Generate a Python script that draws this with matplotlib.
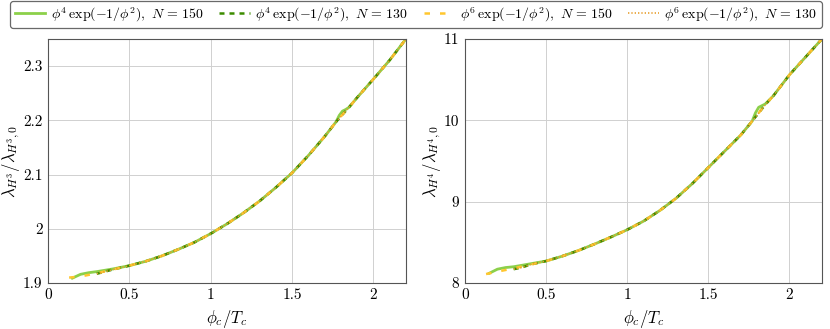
import numpy as np
import matplotlib
matplotlib.use("Agg")
import matplotlib.pyplot as plt

plt.rcParams['font.family'] = 'serif'
plt.rcParams['font.serif'] = ['cmr10', 'DejaVu Serif']
plt.rcParams['mathtext.fontset'] = 'cm'
plt.rcParams['axes.formatter.use_mathtext'] = True

# siatki phi_c/T_c
x_a = [0.15, 0.2, 0.25, 0.3, 0.4, 0.5, 0.6, 0.7, 0.8, 0.9, 1.0, 1.1, 1.2, 1.3, 1.4,
       1.5, 1.6, 1.7, 1.77, 1.79, 1.81, 1.83, 1.85, 1.9, 2.0, 2.1, 2.2]
x_b = [0.13, 0.2, 0.25, 0.3, 0.4, 0.5, 0.6, 0.7, 0.8, 0.9, 1.0, 1.1, 1.2, 1.3, 1.4,
       1.5, 1.6, 1.7, 1.77, 1.85, 1.9, 2.0, 2.1, 2.2]
x_c = [0.3, 0.35, 0.4, 0.5, 0.6, 0.7, 0.8, 0.9, 1.0, 1.1, 1.2, 1.3, 1.4,
       1.5, 1.6, 1.7, 1.77, 1.85, 1.9, 2.0, 2.1, 2.2]

# lambda_H3 / lambda_H3,0
h3_p4_150 = [1.909, 1.916, 1.919, 1.921, 1.926, 1.932, 1.940, 1.950, 1.962, 1.975, 1.991,
             2.009, 2.029, 2.051, 2.076, 2.103, 2.135, 2.170, 2.197, 2.209, 2.217, 2.220,
             2.224, 2.242, 2.276, 2.311, 2.350]
h3_p4_130 = [1.917, 1.921, 1.925, 1.932, 1.940, 1.950, 1.962, 1.975, 1.991,
             2.009, 2.029, 2.051, 2.076, 2.103, 2.135, 2.170, 2.197, 2.224,
             2.242, 2.276, 2.311, 2.350]
h3_p6_150 = [1.910, 1.912, 1.915, 1.918, 1.925, 1.932, 1.940, 1.950, 1.962, 1.975, 1.991,
             2.009, 2.029, 2.051, 2.076, 2.103, 2.135, 2.170, 2.197, 2.224,
             2.242, 2.276, 2.311, 2.350]
h3_p6_130 = h3_p4_130

# lambda_H4 / lambda_H4,0
h4_p4_150 = [8.12, 8.17, 8.19, 8.20, 8.235, 8.27, 8.33, 8.40, 8.48, 8.565, 8.655,
             8.76, 8.89, 9.04, 9.22, 9.42, 9.62, 9.82, 9.99, 10.09, 10.16, 10.18,
             10.20, 10.30, 10.56, 10.78, 11.0]
h4_p4_130 = [8.17, 8.19, 8.225, 8.27, 8.33, 8.40, 8.48, 8.565, 8.655,
             8.76, 8.89, 9.04, 9.22, 9.42, 9.62, 9.82, 9.99, 10.19,
             10.30, 10.56, 10.78, 11.0]
h4_p6_150 = [8.11, 8.14, 8.16, 8.18, 8.225, 8.27, 8.33, 8.40, 8.48, 8.565, 8.655,
             8.76, 8.89, 9.04, 9.22, 9.42, 9.62, 9.82, 9.99, 10.19,
             10.30, 10.56, 10.78, 11.0]
h4_p6_130 = h4_p4_130

labels = [r'$\phi^4\,\exp(-1/\phi^2),\ N\,=\,150$',
          r'$\phi^4\,\exp(-1/\phi^2),\ N\,=\,130$',
          r'$\phi^6\,\exp(-1/\phi^2),\ N\,=\,150$',
          r'$\phi^6\,\exp(-1/\phi^2),\ N\,=\,130$']

fig = plt.figure(figsize=(8.3, 3.29), dpi=100)
ax1 = fig.add_axes([0.0578, 0.1398, 0.4313, 0.7417])
ax2 = fig.add_axes([0.5602, 0.1398, 0.4301, 0.7417])

def rysuj(ax, y1, y2, y3, y4):
    l1, = ax.plot(x_a, y1, '-', color='#8cd04a', lw=2.0)
    l2, = ax.plot(x_c, y2, color='#3c8c00', lw=1.8, ls=(0, (2.0, 2.0)))
    l3, = ax.plot(x_b, y3, color='#ffc62e', lw=1.8, ls=(0, (2.2, 4.0)))
    l4, = ax.plot(x_c, y4, color='#e8a030', lw=1.2, ls=(0, (0.8, 1.2)))
    ax.set_xlim(0, 2.2)
    ax.grid(True, color='#d0d0d0', lw=0.7)
    ax.set_axisbelow(True)
    for s in ax.spines.values():
        s.set_color('#555555')
    ax.tick_params(direction='in', length=0, labelsize=11, colors='black', pad=4)
    ax.set_xticks([0, 0.5, 1, 1.5, 2])
    ax.set_xticklabels(['0', '0.5', '1', '1.5', '2'])
    ax.set_xlabel(r'$\phi_c/T_c$', fontsize=12, labelpad=4)
    return [l1, l2, l3, l4]

linie = rysuj(ax1, h3_p4_150, h3_p4_130, h3_p6_150, h3_p6_130)
ax1.set_ylim(1.9, 2.35)
ax1.set_yticks([1.9, 2.0, 2.1, 2.2, 2.3])
ax1.set_yticklabels(['1.9', '2', '2.1', '2.2', '2.3'])
ax1.set_ylabel(r'$\lambda_{H^3}/\lambda_{H^3,0}$', fontsize=12, labelpad=1)

rysuj(ax2, h4_p4_150, h4_p4_130, h4_p6_150, h4_p6_130)
ax2.set_ylim(8, 11)
ax2.set_yticks([8, 9, 10, 11])
ax2.set_yticklabels(['8', '9', '10', '11'])
ax2.set_ylabel(r'$\lambda_{H^4}/\lambda_{H^4,0}$', fontsize=12, labelpad=1)

leg = fig.legend(linie, labels, loc='upper center', ncol=4,
                 bbox_to_anchor=(0.5012, 0.997),
                 fontsize=10, frameon=True, fancybox=True, handlelength=2.2,
                 handletextpad=0.4, borderpad=0.3, borderaxespad=0.0,
                 columnspacing=1.1)
leg.get_frame().set_edgecolor('#444444')
leg.get_frame().set_linewidth(0.9)

fig.savefig('out.png', dpi=100)
